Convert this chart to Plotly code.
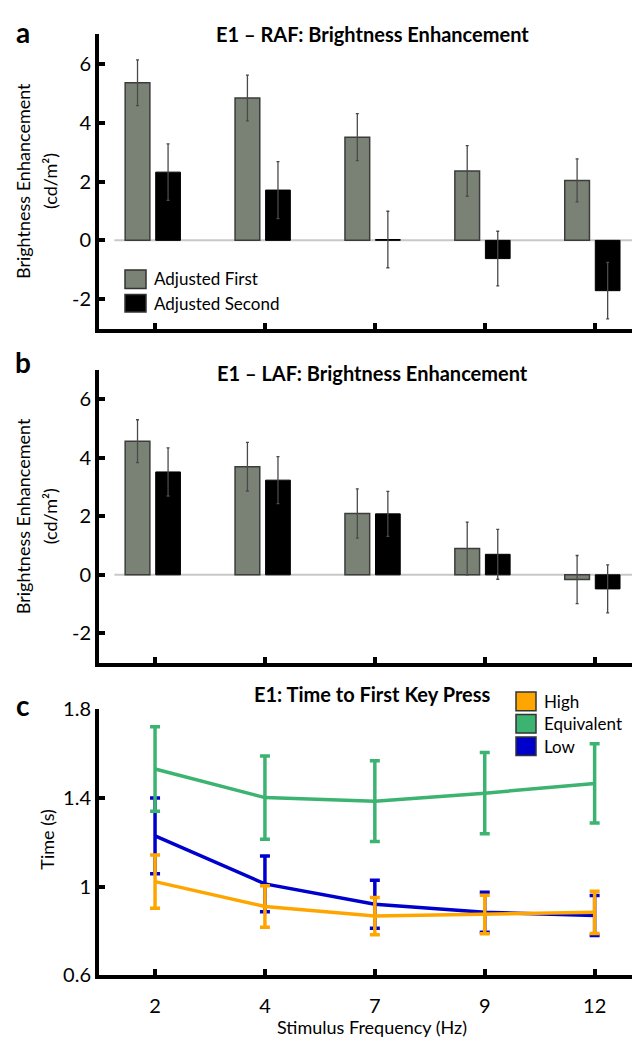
import plotly.graph_objects as go

# ---------------- data ----------------
freq_labels = ["2", "4", "7", "9", "12"]
cat_pos = [0, 1, 2, 3, 4]

# Panel a: E1 - RAF
raf_first = [5.36, 4.84, 3.51, 2.36, 2.04]
raf_first_err = [0.78, 0.78, 0.80, 0.86, 0.73]
raf_second = [2.32, 1.71, 0.03, -0.62, -1.71]
raf_second_err = [0.96, 0.97, 0.96, 0.93, 0.96]

# Panel b: E1 - LAF
laf_first = [4.56, 3.69, 2.09, 0.90, -0.16]
laf_first_err = [0.73, 0.83, 0.84, 0.90, 0.82]
laf_second = [3.51, 3.23, 2.08, 0.70, -0.48]
laf_second_err = [0.82, 0.80, 0.77, 0.85, 0.82]

# Panel c: time to first key press
high_t = [1.022, 0.910, 0.867, 0.874, 0.884]
high_err = [0.120, 0.093, 0.084, 0.087, 0.095]
equiv_t = [1.529, 1.400, 1.384, 1.420, 1.464]
equiv_err = [0.190, 0.187, 0.182, 0.183, 0.178]
low_t = [1.228, 1.012, 0.920, 0.884, 0.870]
low_err = [0.170, 0.125, 0.108, 0.090, 0.090]

# ---------------- style ----------------
W, H = 635, 1048
FONT = "Lato"
GREY = "#7A8275"
BLACK = "#000000"
ORANGE = "#FFA500"
GREEN = "#3CB371"
BLUE = "#0000CD"

def py(px):  # pixel from top -> paper y
    return 1 - px / H

def pxx(px):
    return px / W

X0, X1 = 99, 632
xdom = [pxx(X0), pxx(X1)]
dom_a = [py(323), py(22)]
dom_b = [py(665), py(365)]
dom_c = [py(985), py(712)]
xrange_ = [-0.51, 4.34]

fig = go.Figure()

def add_bars(vals1, err1, vals2, err2, xa, ya):
    fig.add_trace(go.Bar(
        x=cat_pos, y=vals1, width=0.225, offset=-0.272,
        marker=dict(color=GREY, line=dict(color="#3c3c3c", width=1.5)),
        error_y=dict(type="data", array=err1, color="#4a4a4a", thickness=1.3, width=1.5),
        xaxis=xa, yaxis=ya, showlegend=False))
    fig.add_trace(go.Bar(
        x=cat_pos, y=vals2, width=0.225, offset=0.006,
        marker=dict(color=BLACK, line=dict(color="#000000", width=1)),
        error_y=dict(type="data", array=err2, color="#4a4a4a", thickness=1.3, width=1.5),
        xaxis=xa, yaxis=ya, showlegend=False))

add_bars(raf_first, raf_first_err, raf_second, raf_second_err, "x", "y")
add_bars(laf_first, laf_first_err, laf_second, laf_second_err, "x2", "y2")

for name, vals, errs, col in [("Low", low_t, low_err, BLUE),
                               ("Equivalent", equiv_t, equiv_err, GREEN),
                               ("High", high_t, high_err, ORANGE)]:
    fig.add_trace(go.Scatter(
        x=cat_pos, y=vals, mode="lines", name=name,
        line=dict(color=col, width=3.5),
        error_y=dict(type="data", array=errs, color=col, thickness=3.5, width=5),
        xaxis="x3", yaxis="y3", showlegend=False))

axis_common = dict(showline=True, linecolor="black", linewidth=4, ticks="inside",
                   tickcolor="black", tickwidth=4, ticklen=6, showgrid=False,
                   zeroline=False, tickfont=dict(family=FONT, size=20, color="black"))

fig.update_layout(
    width=W, height=H, margin=dict(l=0, r=0, t=0, b=0),
    paper_bgcolor="white", plot_bgcolor="white",
    barmode="overlay", showlegend=False,
    xaxis=dict(domain=xdom, anchor="y", range=xrange_, tickvals=cat_pos,
               ticktext=["" for _ in freq_labels], **axis_common),
    yaxis=dict(domain=dom_a, anchor="x", range=[-3, 7], tickvals=[-2, 0, 2, 4, 6],
               ticktext=["-2", "0", "2", "4", "6"], **axis_common),
    xaxis2=dict(domain=xdom, anchor="y2", range=xrange_, tickvals=cat_pos,
                ticktext=["" for _ in freq_labels], **axis_common),
    yaxis2=dict(domain=dom_b, anchor="x2", range=[-3, 7], tickvals=[-2, 0, 2, 4, 6],
                ticktext=["-2", "0", "2", "4", "6"], **axis_common),
    xaxis3=dict(domain=xdom, anchor="y3", range=xrange_, tickvals=cat_pos,
                ticktext=freq_labels, ticklabelstandoff=10, **axis_common),
    yaxis3=dict(domain=dom_c, anchor="x3", range=[0.6, 1.8], tickvals=[0.6, 1.0, 1.4, 1.8],
                ticktext=["0.6", "1", "1.4", "1.8"], **axis_common),
)

# zero reference lines in bar panels
for xr, yr in [("x", "y"), ("x2", "y2")]:
    fig.add_shape(type="line", xref=xr, yref=yr, x0=-0.37, x1=4.34, y0=0, y1=0,
                  line=dict(color="#c8c8c8", width=2), layer="below")

ann = []
def text(x, y, s, size=18, bold=False, angle=0, xanchor="center"):
    ann.append(dict(x=pxx(x), y=py(y), xref="paper", yref="paper", text=(f"<b>{s}</b>" if bold else s),
                    showarrow=False, textangle=angle, xanchor=xanchor, yanchor="middle",
                    font=dict(family=FONT, size=size, color="black")))

# panel letters
text(23, 19, "a", size=28, bold=True)
text(23, 357, "b", size=28, bold=True)
text(23, 708, "c", size=28, bold=True)
# titles
text(372, 22, "E1 – RAF: Brightness Enhancement", size=20, bold=True)
text(372, 368, "E1 – LAF: Brightness Enhancement", size=20, bold=True)
text(372, 697, "E1: Time to First Key Press", size=20, bold=True)
# y titles
for yc in [172, 515]:
    text(23, yc, "Brightness Enhancement", size=18, angle=-90)
    text(50, yc, "(cd/m²)", size=18, angle=-90)
text(47, 846, "Time (s)", size=18, angle=-90)
# x title
text(372, 1038, "Stimulus Frequency (Hz)", size=18)

# legend a
for (y0, y1, col, lab, yt) in [(263, 282, GREY, "Adjusted First", 272),
                               (288, 306, BLACK, "Adjusted Second", 297)]:
    fig.add_shape(type="rect", xref="paper", yref="paper", x0=pxx(125), x1=pxx(146),
                  y0=py(y1), y1=py(y0), fillcolor=col, line=dict(color="#333333", width=1.5))
    text(152, yt, lab, size=17, xanchor="left")

# legend c
for (y0, y1, col, lab) in [(695, 714, ORANGE, "High"), (718, 737, GREEN, "Equivalent"),
                           (741, 760, BLUE, "Low")]:
    fig.add_shape(type="rect", xref="paper", yref="paper", x0=pxx(516), x1=pxx(536),
                  y0=py(y1), y1=py(y0), fillcolor=col, line=dict(color="#333333", width=1.5))
    text(542, (y0 + y1) / 2, lab, size=17, xanchor="left")

fig.update_layout(annotations=ann)
fig.write_html("out.html", config={"displayModeBar": False},
               post_script="document.body.style.margin='0';document.body.style.overflow='hidden';")
